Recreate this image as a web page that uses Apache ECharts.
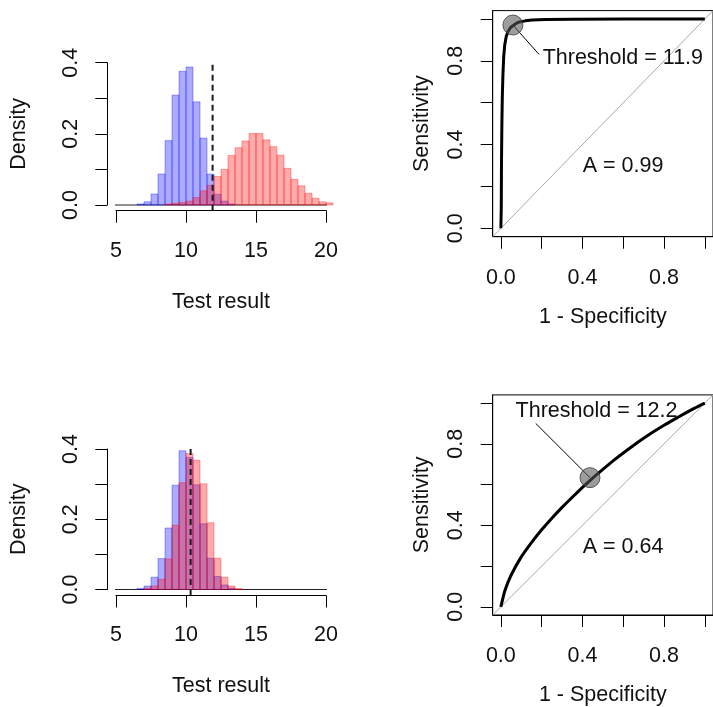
<!DOCTYPE html>
<html>
<head>
<meta charset="utf-8">
<script src="https://cdn.jsdelivr.net/npm/echarts@6/dist/echarts.min.js"></script>
<style>
  html, body { margin: 0; padding: 0; background: #fff; }
  #chart { width: 713px; height: 707px; }
</style>
</head>
<body>
<div id="chart"></div>
<script>
// ---- histogram data (density per 0.5-wide bin, keyed by the bin's lower edge) ----
const histBinWidth = 0.5;

// upper pair: healthy ~ N(10,1), diseased ~ N(15,2)
const topNegLower = [6.5, 7, 7.5, 8, 8.5, 9, 9.5, 10, 10.5, 11, 11.5, 12, 12.5, 13];
const topNegDensity = [0.003, 0.009, 0.031, 0.087, 0.181, 0.309, 0.376, 0.388, 0.290, 0.188, 0.087, 0.030, 0.011, 0.003];
const topPosLower = [8.5, 9, 9.5, 10, 10.5, 11, 11.5, 12, 12.5, 13, 13.5, 14, 14.5, 15, 15.5, 16, 16.5, 17, 17.5, 18, 18.5, 19, 19.5, 20];
const topPosDensity = [0.003, 0.005, 0.007, 0.011, 0.021, 0.040, 0.055, 0.080, 0.100, 0.139, 0.161, 0.180, 0.201, 0.201, 0.183, 0.164, 0.140, 0.103, 0.072, 0.054, 0.033, 0.019, 0.009, 0.006];

// lower pair: two heavily overlapping groups
const botNegLower = [6.5, 7, 7.5, 8, 8.5, 9, 9.5, 10, 10.5, 11, 11.5, 12, 12.5, 13];
const botNegDensity = [0.003, 0.010, 0.035, 0.088, 0.175, 0.297, 0.395, 0.376, 0.298, 0.187, 0.089, 0.037, 0.013, 0.004];
const botPosLower = [7, 7.5, 8, 8.5, 9, 9.5, 10, 10.5, 11, 11.5, 12, 12.5, 13, 13.5];
const botPosDensity = [0.004, 0.010, 0.029, 0.087, 0.183, 0.304, 0.387, 0.368, 0.301, 0.190, 0.089, 0.035, 0.010, 0.003];

// cut-off drawn as a dashed line on each histogram
const topCut = 11.9;
const botCut = 10.33;

// ---- ROC curves: [1 - specificity, sensitivity] ----
const topRocFpr = [0, 0.002, 0.003, 0.005, 0.007, 0.010, 0.014, 0.019, 0.026, 0.035, 0.046, 0.059, 0.075, 0.091, 0.120, 0.153, 0.220, 0.350, 0.600, 1.0];
const topRocTpr = [0, 0.100, 0.300, 0.500, 0.620, 0.730, 0.820, 0.876, 0.915, 0.940, 0.957, 0.968, 0.979, 0.986, 0.991, 0.995, 0.998, 0.999, 1.0, 1.0];
const botRocFpr = [0, 0.02, 0.05, 0.10, 0.15, 0.20, 0.25, 0.30, 0.35, 0.40, 0.45, 0.50, 0.55, 0.60, 0.65, 0.70, 0.75, 0.80, 0.85, 0.90, 0.95, 1.0];
const botRocTpr = [0, 0.080, 0.155, 0.245, 0.315, 0.378, 0.435, 0.488, 0.538, 0.586, 0.632, 0.675, 0.716, 0.755, 0.792, 0.827, 0.860, 0.891, 0.920, 0.948, 0.975, 1.0];

// operating point marked on each curve, with its threshold and the area under the curve
const topPoint = [0.059, 0.971];
const botPoint = [0.437, 0.634];
const topThreshold = 11.9;
const botThreshold = 12.2;
const topAuc = 0.99;
const botAuc = 0.64;

// annotation anchors (data units of the ROC panels)
const topLeaderEnd = [0.187, 0.831];
const botLeaderEnd = [0.171, 0.900];
const topThresholdText = [0.598, 0.812];
const botThresholdText = [0.469, 0.963];
const topAucText = [0.599, 0.299];
const botAucText = [0.599, 0.291];

// ---- axis ticks / labels ----
const histXRange = [5, 20];
const histXTicks = 5;
const histYRange = [0, 0.4];
const histYLabels = [0, 0.2, 0.4];
const rocTicks = [0, 0.2, 0.4, 0.6, 0.8, 1.0];
const rocLabels = [0, 0.4, 0.8];

// ---------------------------------------------------------------------------
const FONT = '"Liberation Sans", Arial, Helvetica, sans-serif';
const INK = '#000';
const TXT = { fontFamily: FONT, fontSize: 21.5, color: '#111' };
const EXT = 0.04; // usual 4% padding of the plotting region

function extend(r) { const s = r[1] - r[0]; return [r[0] - EXT * s, r[1] + EXT * s]; }
const fmt1 = v => v.toFixed(1);

const grids = [
  { left: 116, top: 62.7, width: 210, height: 142.3 },     // histogram, upper
  { left: 492.7, top: 10.6, width: 225.7, height: 226.1 }, // ROC, upper
  { left: 116, top: 449, width: 210, height: 140.5 },      // histogram, lower
  { left: 492.7, top: 394.9, width: 225.7, height: 226.2 } // ROC, lower
].map(g => Object.assign({ containLabel: false }, g));
grids[1].show = true; grids[1].borderColor = INK; grids[1].borderWidth = 1;
grids[3].show = true; grids[3].borderColor = INK; grids[3].borderWidth = 1;

const tickStyle = { show: true, length: 12, inside: false, lineStyle: { color: INK, width: 1 } };
const lineStyle = { show: true, onZero: false, lineStyle: { color: INK, width: 1 } };

function histX(gi, offset) {
  return {
    type: 'value', gridIndex: gi, min: histXRange[0], max: histXRange[1], interval: histXTicks,
    position: 'bottom', offset: offset,
    axisLine: lineStyle, axisTick: tickStyle, splitLine: { show: false },
    axisLabel: Object.assign({ margin: 29 }, TXT),
    name: 'Test result', nameLocation: 'middle', nameGap: 80, nameTextStyle: TXT
  };
}
function histY(gi) {
  return {
    type: 'value', gridIndex: gi, min: histYRange[0], max: histYRange[1], interval: 0.1,
    position: 'left', offset: 8.7,
    axisLine: lineStyle, axisTick: tickStyle, splitLine: { show: false },
    axisLabel: Object.assign({ margin: 25, rotate: 90, customValues: histYLabels, formatter: fmt1 }, TXT),
    name: 'Density', nameLocation: 'middle', nameRotate: 90, nameGap: 77, nameTextStyle: TXT
  };
}
const rocRange = extend([0, 1]);
function rocX(gi) {
  return {
    type: 'value', gridIndex: gi, min: rocRange[0], max: rocRange[1], position: 'bottom',
    axisLine: lineStyle, splitLine: { show: false },
    axisTick: Object.assign({ customValues: rocTicks }, tickStyle),
    axisLabel: Object.assign({ margin: 30, customValues: rocLabels, formatter: fmt1 }, TXT),
    name: '1 - Specificity', nameLocation: 'middle', nameGap: 69, nameTextStyle: TXT
  };
}
function rocY(gi) {
  return {
    type: 'value', gridIndex: gi, min: rocRange[0], max: rocRange[1], position: 'left',
    axisLine: lineStyle, splitLine: { show: false },
    axisTick: Object.assign({ customValues: rocTicks }, tickStyle),
    axisLabel: Object.assign({ margin: 26, rotate: 90, customValues: rocLabels, formatter: fmt1 }, TXT),
    name: 'Sensitivity', nameLocation: 'middle', nameRotate: 90, nameGap: 60, nameTextStyle: TXT
  };
}

function histSeries(ai, lower, density, fill, edge) {
  return {
    type: 'custom', xAxisIndex: ai, yAxisIndex: ai, silent: true, clip: false,
    data: lower.map((lo, i) => [lo, lo + histBinWidth, density[i]]),
    encode: { x: [0, 1], y: 2 },
    renderItem: function (params, api) {
      const p0 = api.coord([api.value(0), 0]);
      const p1 = api.coord([api.value(1), api.value(2)]);
      return {
        type: 'rect',
        shape: { x: p0[0], y: p1[1], width: p1[0] - p0[0], height: p0[1] - p1[1] },
        style: { fill: fill, stroke: edge, lineWidth: 1 }
      };
    }
  };
}
function lineSeries(ai, data, style, z) {
  return {
    type: 'line', xAxisIndex: ai, yAxisIndex: ai, data: data, symbol: 'none', silent: true,
    clip: false, lineStyle: style, z: z || 2
  };
}
function textSeries(ai, pos, text) {
  return {
    type: 'scatter', xAxisIndex: ai, yAxisIndex: ai, data: [pos], symbolSize: 1, silent: true,
    itemStyle: { color: 'transparent' }, z: 6,
    label: Object.assign({
      show: true, position: 'inside', formatter: text,
      textBorderWidth: 0, textBorderColor: 'transparent', opacity: 1
    }, TXT)
  };
}
function pointSeries(ai, pt) {
  return {
    type: 'scatter', xAxisIndex: ai, yAxisIndex: ai, data: [pt], symbolSize: 20, silent: true, z: 5,
    itemStyle: { color: 'rgba(85,85,85,0.72)', borderColor: '#3a3a3a', borderWidth: 1 }
  };
}

const BLUE = 'rgba(0,0,255,0.33)', RED = 'rgba(255,0,0,0.33)';
const histX0 = extend(histXRange), histY0 = extend(histYRange);
const zip = (a, b) => a.map((v, i) => [v, b[i]]);

const series = [
  // upper histogram
  lineSeries(0, [[histX0[0], 0], [histX0[1], 0]], { color: '#222', width: 1 }, 1),
  histSeries(0, topNegLower, topNegDensity, BLUE, BLUE),
  histSeries(0, topPosLower, topPosDensity, RED, RED),
  lineSeries(0, [[topCut, histY0[0]], [topCut, histYRange[1]]], { color: '#1a1a1a', width: 2, type: [6, 4] }, 4),
  // lower histogram
  lineSeries(2, [[histX0[0], 0], [histX0[1], 0]], { color: '#222', width: 1 }, 1),
  histSeries(2, botNegLower, botNegDensity, BLUE, BLUE),
  histSeries(2, botPosLower, botPosDensity, RED, RED),
  lineSeries(2, [[botCut, histY0[0]], [botCut, histYRange[1]]], { color: '#1a1a1a', width: 2, type: [6, 4] }, 4),
  // upper ROC
  lineSeries(1, [[rocRange[0], rocRange[0]], [rocRange[1], rocRange[1]]], { color: '#aaa', width: 1 }, 1),
  lineSeries(1, zip(topRocFpr, topRocTpr), { color: '#000', width: 3 }, 3),
  lineSeries(1, [topPoint, topLeaderEnd], { color: '#000', width: 1 }, 4),
  pointSeries(1, topPoint),
  textSeries(1, topThresholdText, 'Threshold = ' + topThreshold.toFixed(1)),
  textSeries(1, topAucText, 'A = ' + topAuc.toFixed(2)),
  // lower ROC
  lineSeries(3, [[rocRange[0], rocRange[0]], [rocRange[1], rocRange[1]]], { color: '#aaa', width: 1 }, 1),
  Object.assign(lineSeries(3, zip(botRocFpr, botRocTpr), { color: '#000', width: 3 }, 3), { smooth: 0.2 }),
  lineSeries(3, [botPoint, botLeaderEnd], { color: '#000', width: 1 }, 4),
  pointSeries(3, botPoint),
  textSeries(3, botThresholdText, 'Threshold = ' + botThreshold.toFixed(1)),
  textSeries(3, botAucText, 'A = ' + botAuc.toFixed(2))
];

const chart = echarts.init(document.getElementById('chart'), null, { renderer: 'canvas' });
chart.setOption({
  animation: false,
  backgroundColor: '#fff',
  textStyle: { fontFamily: FONT },
  grid: grids,
  xAxis: [histX(0, 5.7), rocX(1), histX(2, 6), rocX(3)],
  yAxis: [histY(0), rocY(1), histY(2), rocY(3)],
  series: series
});
</script>
</body>
</html>
